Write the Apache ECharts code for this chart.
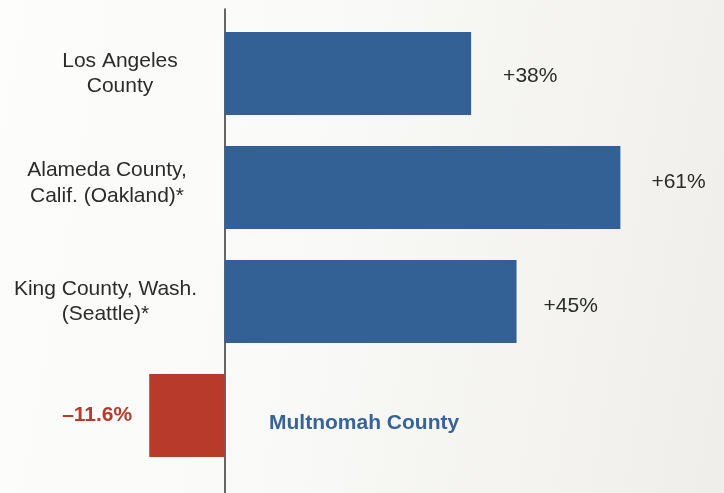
<!DOCTYPE html>
<html>
<head>
<meta charset="utf-8">
<script src="https://cdn.jsdelivr.net/npm/echarts@6/dist/echarts.min.js"></script>
<style>
  html, body { margin: 0; padding: 0; }
  body { width: 724px; height: 493px; background: linear-gradient(100deg, #fdfdfc 0%, #f9f9f7 45%, #efeeea 100%); }
  #chart { width: 724px; height: 493px; }
</style>
</head>
<body>
<div id="chart"></div>
<script>
// ---- data ----
const categories = ['Los Angeles\nCounty', 'Alameda County,\nCalif. (Oakland)*', 'King County, Wash.\n(Seattle)*', 'Multnomah County'];
const changePct = [38, 61, 45, -11.6];
const valueLabels = ['+38%', '+61%', '+45%', '\u201311.6%'];
const axisMin = -30;
const axisMax = 70;

// ---- styles ----
const FONT = '"Helvetica Neue", "Liberation Sans", Arial, sans-serif';
const BLUE = '#336195';
const RED = '#b73a2a';
const TEXT = '#2b2b2b';
const richCat = {
  a: { fontFamily: FONT, fontSize: 21, lineHeight: 26, color: TEXT },
  s: { fontSize: 1, lineHeight: 9 }
};
const catLabelStyles = [
  { align: 'center', padding: [0, 0, 0, 20] },
  { align: 'center', padding: [0, 6, 0, 0], rich: richCat },
  { align: 'center', padding: [0, 9, 0, 0] },
  { align: 'left', verticalAlign: 'top', lineHeight: 15, padding: [0, 0, 0, 159], color: '#36649a', fontWeight: 'bold', fontSize: 21 }
];
const spacedLabels = [false, true, false, false];
const valueLabelNudge = [[2, 2.5], [1, -5.5], [-3, 4.5], [0, 0]];

const chart = echarts.init(document.getElementById('chart'), null, { renderer: 'canvas' });

const gridLeft = 29.8, gridRight = 45.2;
const labelCenterX = 110;

const option = {
  animation: false,
  backgroundColor: 'transparent',
  textStyle: { fontFamily: FONT },
  grid: [
    { left: gridLeft, right: gridRight, top: 16.5, bottom: 20.5, outerBoundsMode: 'none', containLabel: false },
    { left: gridLeft, right: gridRight, top: 9, bottom: 0, outerBoundsMode: 'none', containLabel: false }
  ],
  xAxis: [
    { type: 'value', gridIndex: 0, min: axisMin, max: axisMax, show: false },
    { type: 'value', gridIndex: 1, min: axisMin, max: axisMax, show: false }
  ],
  yAxis: [
    {
      type: 'category', gridIndex: 0, inverse: true,
      data: categories.map((c, i) => ({ value: c, textStyle: catLabelStyles[i] })),
      axisLine: { show: false, onZero: false },
      axisTick: { show: false },
      splitLine: { show: false },
      axisLabel: {
        interval: 0, margin: gridLeft - labelCenterX, align: 'center',
        fontFamily: FONT, fontSize: 21, lineHeight: 25, color: TEXT,
        rich: richCat,
        formatter: function (value, index) {
          if (!spacedLabels[index]) return value;
          return value.split('\n').map(l => '{a|' + l + '}').join('\n') + '\n{s| }';
        }
      }
    },
    {
      type: 'category', gridIndex: 1, data: [''],
      axisLine: { show: true, onZero: true, lineStyle: { color: '#333', width: 1.5 } },
      axisTick: { show: false }, axisLabel: { show: false }, splitLine: { show: false }
    }
  ],
  series: [{
    type: 'bar',
    xAxisIndex: 0, yAxisIndex: 0,
    barWidth: 83,
    silent: true,
    data: changePct.map((v, i) => ({
      value: v,
      itemStyle: { color: v < 0 ? RED : BLUE },
      label: v < 0 ? {
        show: true, position: 'left', distance: 17,
        formatter: valueLabels[i], color: RED, fontWeight: 'bold',
        fontSize: 21, fontFamily: FONT, offset: valueLabelNudge[i]
      } : {
        show: true, position: 'right', distance: 30,
        formatter: valueLabels[i], color: TEXT,
        fontSize: 21, fontFamily: FONT, offset: valueLabelNudge[i]
      }
    }))
  }]
};
chart.setOption(option);
</script>
</body>
</html>
